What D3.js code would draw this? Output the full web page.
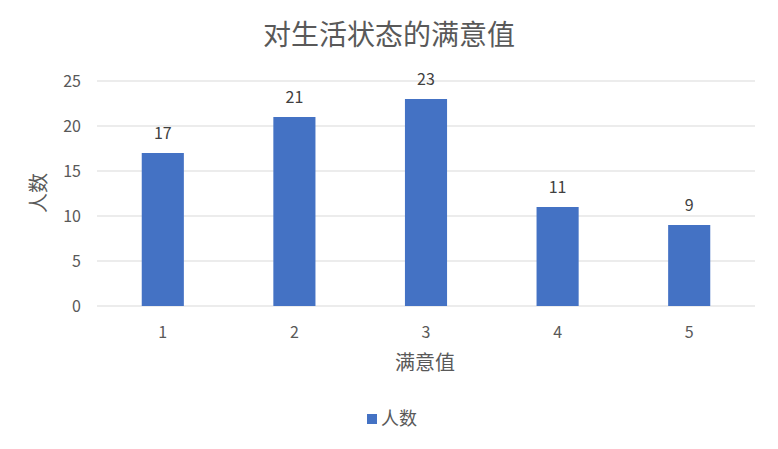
<!DOCTYPE html>
<html>
<head>
<meta charset="utf-8">
<style>
body { margin: 0; background: #fff; }
text { font-family: "Noto Sans CJK SC", "DejaVu Sans", sans-serif; }
</style>
</head>
<body>
<script src="https://d3js.org/d3.v7.min.js"></script>
<script>
var categories = ["1", "2", "3", "4", "5"];
var values = [17, 21, 23, 11, 9];
var yTicks = [0, 5, 10, 15, 20, 25];
var title = "对生活状态的满意值";
var xTitle = "满意值";
var yTitle = "人数";
var seriesName = "人数";

var width = 778, height = 449;
var plotLeft = 97, plotRight = 755, plotTop = 81, plotBottom = 306;

var svg = d3.select("body").append("svg")
	.attr("width", width)
	.attr("height", height);

var x = d3.scaleBand()
	.domain(categories)
	.range([plotLeft, plotRight])
	.paddingInner(0.68)
	.paddingOuter(0.34);

var y = d3.scaleLinear()
	.domain([0, 25])
	.range([plotBottom, plotTop]);

// gridlines
svg.selectAll("line.grid")
	.data(yTicks)
	.enter().append("line")
	.attr("x1", plotLeft).attr("x2", plotRight)
	.attr("y1", function(d){ return y(d); })
	.attr("y2", function(d){ return y(d); })
	.style("stroke", "#d9d9d9")
	.style("stroke-width", 1);

// y tick labels
svg.selectAll("text.ytick")
	.data(yTicks)
	.enter().append("text")
	.attr("x", 81)
	.attr("y", function(d){ return y(d); })
	.attr("dy", "0.35em")
	.attr("text-anchor", "end")
	.style("font-size", "16px")
	.style("fill", "#595959")
	.text(function(d){ return d; });

// bars
svg.selectAll("rect.bar")
	.data(values)
	.enter().append("rect")
	.attr("x", function(d, i){ return x(categories[i]); })
	.attr("y", function(d){ return y(d); })
	.attr("width", x.bandwidth())
	.attr("height", function(d){ return y(0) - y(d); })
	.style("fill", "#4472c4");

// data labels
svg.selectAll("text.lbl")
	.data(values)
	.enter().append("text")
	.attr("x", function(d, i){ return x(categories[i]) + x.bandwidth() / 2; })
	.attr("y", function(d){ return y(d) - 14; })
	.attr("text-anchor", "middle")
	.style("font-size", "16px")
	.style("fill", "#404040")
	.text(function(d){ return d; });

// x tick labels
svg.selectAll("text.xtick")
	.data(categories)
	.enter().append("text")
	.attr("x", function(d){ return x(d) + x.bandwidth() / 2; })
	.attr("y", 338)
	.attr("text-anchor", "middle")
	.style("font-size", "16px")
	.style("fill", "#595959")
	.text(function(d){ return d; });

// title
svg.append("text")
	.attr("x", 389).attr("y", 45)
	.attr("text-anchor", "middle")
	.style("font-size", "28px")
	.style("fill", "#595959")
	.text(title);

// axis titles
svg.append("text")
	.attr("x", 425).attr("y", 370)
	.attr("text-anchor", "middle")
	.style("font-size", "20px")
	.style("fill", "#595959")
	.text(xTitle);

svg.append("text")
	.attr("transform", "translate(46,193) rotate(-90)")
	.attr("text-anchor", "middle")
	.style("font-size", "20px")
	.style("fill", "#595959")
	.text(yTitle);

// legend
svg.append("rect")
	.attr("x", 367).attr("y", 414)
	.attr("width", 10).attr("height", 10)
	.style("fill", "#4472c4");
svg.append("text")
	.attr("x", 381).attr("y", 425)
	.style("font-size", "18px")
	.style("fill", "#595959")
	.text(seriesName);
</script>
</body>
</html>
